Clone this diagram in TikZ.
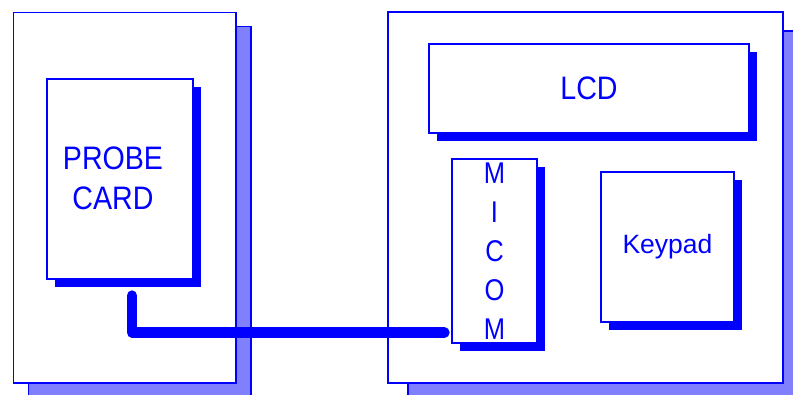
\documentclass[tikz,border=0pt]{standalone}
\usepackage{fontspec}
\setmainfont{Liberation Sans}
\newfontfamily\probefont[FakeStretch=0.88]{Liberation Sans}
\newfontfamily\micomfont[FakeStretch=0.85]{Liberation Sans}
\usetikzlibrary{shadows,calc}
\definecolor{shadelight}{HTML}{8080FF}
\tikzset{
  outerbox/.style n args={2}{draw=blue, line width=1.5pt, fill=white, inner sep=0pt,
    drop shadow={shadow xshift=#1, shadow yshift=#2, opacity=1, fill=shadelight, draw=blue}},
  innerbox/.style={draw=blue, line width=1.2pt, fill=white, inner sep=0pt, text=blue,
    drop shadow={shadow xshift=7.5pt, shadow yshift=-7.5pt, opacity=1, fill=blue, draw=none}},
  boxtext/.style={text=blue, inner sep=0pt, align=center},
  conn/.style={draw=blue, line width=10.5pt, line cap=round, line join=round}
}
\begin{document}
\begin{tikzpicture}[x=1pt,y=-1pt]
\useasboundingbox (0,0) rectangle (793,394);
% outer units
\node[outerbox={15pt}{-14pt}, minimum width=222.5pt, minimum height=370.5pt] (leftunit) at (124.75,197.75) {};
\node[outerbox={20pt}{-19pt}, minimum width=395pt, minimum height=371pt] (rightunit) at (585.5,197.5) {};
% inner boxes
\node[innerbox, minimum width=146pt, minimum height=200pt] (probe) at (120,179) {};
\node[boxtext, font=\probefont\fontsize{32.5}{39.5}\selectfont] (probetext) at (113,178.5) {PROBE\\CARD};
\node[innerbox, minimum width=320pt, minimum height=89pt, font=\probefont\fontsize{32.5}{38}\selectfont] (lcd) at (589,88.5) {LCD};
\node[innerbox, minimum width=85pt, minimum height=184pt, align=center, font=\micomfont\fontsize{30}{39}\selectfont] (micom) at (494.5,251) {M\\I\\C\\O\\M};
\node[innerbox, minimum width=133pt, minimum height=150pt, font=\fontsize{26.5}{30}\selectfont] (keypad) at (667.5,247) {Keypad};
% connector
\draw[conn] ($(probe.south)+(12,16)$) |- ($(micom.south west)+(-7,-11)$);
\end{tikzpicture}
\end{document}
